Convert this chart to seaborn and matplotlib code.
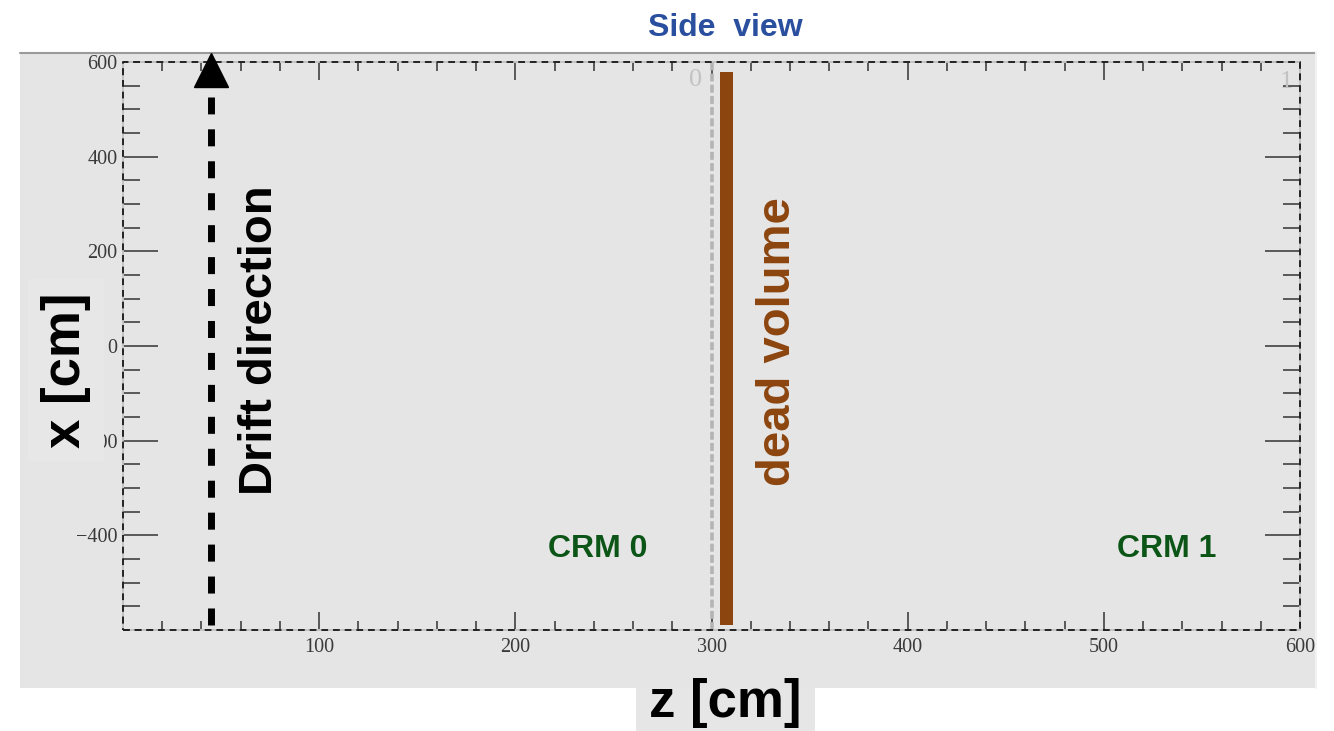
import matplotlib
matplotlib.use("Agg")
import matplotlib.pyplot as plt
from matplotlib.patches import Rectangle
from matplotlib.lines import Line2D
from matplotlib.ticker import MultipleLocator, FixedLocator
import seaborn as sns
import pandas as pd

# ---------------- data ----------------
z_major_ticks = [0, 100, 200, 300, 400, 500, 600]
z_tick_labels = ["", "100", "200", "300", "400", "500", "600"]
x_major_ticks = [-600, -400, -200, 0, 200, 400, 600]
x_tick_labels = ["", "\u2212400", "\u2212200", "0", "200", "400", "600"]

drift_z = [45, 45]
drift_x = [-589, 526]
drift_head = (45, 584)

crm_boundary_z = [300, 300]
crm_boundary_x = [-600, 600]

dead_z = [304.5, 311.0]
dead_x = [-589, 579]

crm_names = ["CRM 0", "CRM 1"]
crm_label_z = [242, 532]
crm_label_x = [-429, -429]

crm_index = ["0", "1"]
crm_index_z = [292, 593]
crm_index_x = [562, 558]

W, H = 1334, 731
GRAY = "#e5e5e5"

sns.set_theme(style="white")
plt.rcParams["font.family"] = ["Liberation Sans", "DejaVu Sans"]

fig = plt.figure(figsize=(W / 100, H / 100), dpi=100)
fig.patch.set_facecolor("white")

def fx(px):
    return px / W

def fy(py):
    return 1 - py / H

# grey panel
fig.patches.append(Rectangle((fx(20), fy(688)), fx(1316) - fx(20), fy(52) - fy(688),
                             transform=fig.transFigure, fc=GRAY, ec="none", zorder=-3))
fig.lines.append(Line2D([fx(20), fx(1316)], [fy(52.5), fy(52.5)], transform=fig.transFigure,
                        color="#9a9a9a", lw=1.5, zorder=-2))
fig.lines.append(Line2D([fx(1316), fx(1316)], [fy(52), fy(688)], transform=fig.transFigure,
                        color="#f2f2f2", lw=1.5, zorder=-2))
# box under z label
fig.patches.append(Rectangle((fx(636), fy(731)), fx(815) - fx(636), fy(688) - fy(731),
                             transform=fig.transFigure, fc="#e6e6e6", ec="none", zorder=-3))

ax = fig.add_axes([fx(123), fy(630), fx(1300) - fx(123), fy(62) - fy(630)])
ax.set_zorder(0)
ax.set_facecolor(GRAY)
ax.set_xlim(0, 600)
ax.set_ylim(-600, 600)

# frame (ROOT-like dashed)
for s in ax.spines.values():
    s.set_visible(False)
ax.plot([0, 1, 1, 0, 0], [0, 0, 1, 1, 0], transform=ax.transAxes, color="#222222",
        lw=1.4, ls=(0, (3.5, 2.5)), gapcolor="#c4c4c4", clip_on=False, zorder=5)

# CRM boundary (grey dashed)
sns.lineplot(x=crm_boundary_z, y=crm_boundary_x, ax=ax, color="#b4b4b4", lw=2.6,
             estimator=None, sort=False)
ax.lines[-1].set_linestyle((0, (2.2, 0.9)))

# dead volume bar
ax.fill_betweenx(dead_x, dead_z[0], dead_z[1], color="#8c450e", lw=0, zorder=3)

# drift direction arrow
df_drift = pd.DataFrame({"z": drift_z, "x": drift_x})
sns.lineplot(data=df_drift, x="z", y="x", ax=ax, color="black", lw=5, estimator=None, sort=False)
ax.lines[-1].set_linestyle((0, (2.45, 2.15)))
ax.lines[-1].set_dash_capstyle("butt")
ax.plot([drift_head[0]], [drift_head[1]], marker="^", ms=25, color="black", clip_on=False, zorder=6)

ax.set_xlim(0, 600)
ax.set_ylim(-600, 600)

# ticks
ax.xaxis.set_major_locator(FixedLocator(z_major_ticks))
ax.set_xticklabels(z_tick_labels)
ax.xaxis.set_minor_locator(MultipleLocator(20))
ax.yaxis.set_major_locator(FixedLocator(x_major_ticks))
ax.set_yticklabels(x_tick_labels)
ax.yaxis.set_minor_locator(MultipleLocator(50))
ax.tick_params(axis="x", which="major", direction="in", length=13, width=1.1, color="#333333",
               top=True, bottom=True, pad=6, labelsize=14.5, labelcolor="#3a3a3a")
ax.tick_params(axis="x", which="minor", direction="in", length=6.5, width=1.1, color="#333333",
               top=True, bottom=True)
ax.tick_params(axis="y", which="major", direction="in", length=25, width=1.1, color="#333333",
               left=True, right=True, pad=4, labelsize=14.5, labelcolor="#3a3a3a")
ax.tick_params(axis="y", which="minor", direction="in", length=12.5, width=1.1, color="#333333",
               left=True, right=True)
for lab in ax.get_xticklabels() + ax.get_yticklabels():
    lab.set_family("Liberation Serif")

# texts
ax.text(70, 13, "Drift direction", rotation=90, ha="center", va="center",
        fontsize=34, fontweight="bold", color="black")
ax.text(334, 10, "dead volume", rotation=90, ha="center", va="center",
        fontsize=34, fontweight="bold", color="#8c450e")
for name, z, x in zip(crm_names, crm_label_z, crm_label_x):
    ax.text(z, x, name, ha="center", va="center", fontsize=23, fontweight="bold", color="#0b5517")
for name, z, x in zip(crm_index, crm_index_z, crm_index_x):
    ax.text(z, x, name, ha="center", va="center", fontsize=19, color="#c2c2c2",
            family="Liberation Serif")

ax.set_xlabel("")
ax.set_ylabel("")

fig.text(fx(725), fy(28), "Side  view", ha="center", va="center", fontsize=23,
         fontweight="bold", color="#2a4f9e")
fig.text(fx(725), fy(703), "z [cm]", ha="center", va="center", fontsize=38,
         fontweight="bold", color="black")
fig.text(fx(66), fy(370), "x [cm]", ha="center", va="center", rotation=90, fontsize=38,
         fontweight="bold", color="black", zorder=10,
         bbox=dict(boxstyle="square,pad=0.25", fc="#e7e7e7", ec="none"))

fig.savefig("out.png", dpi=100)
